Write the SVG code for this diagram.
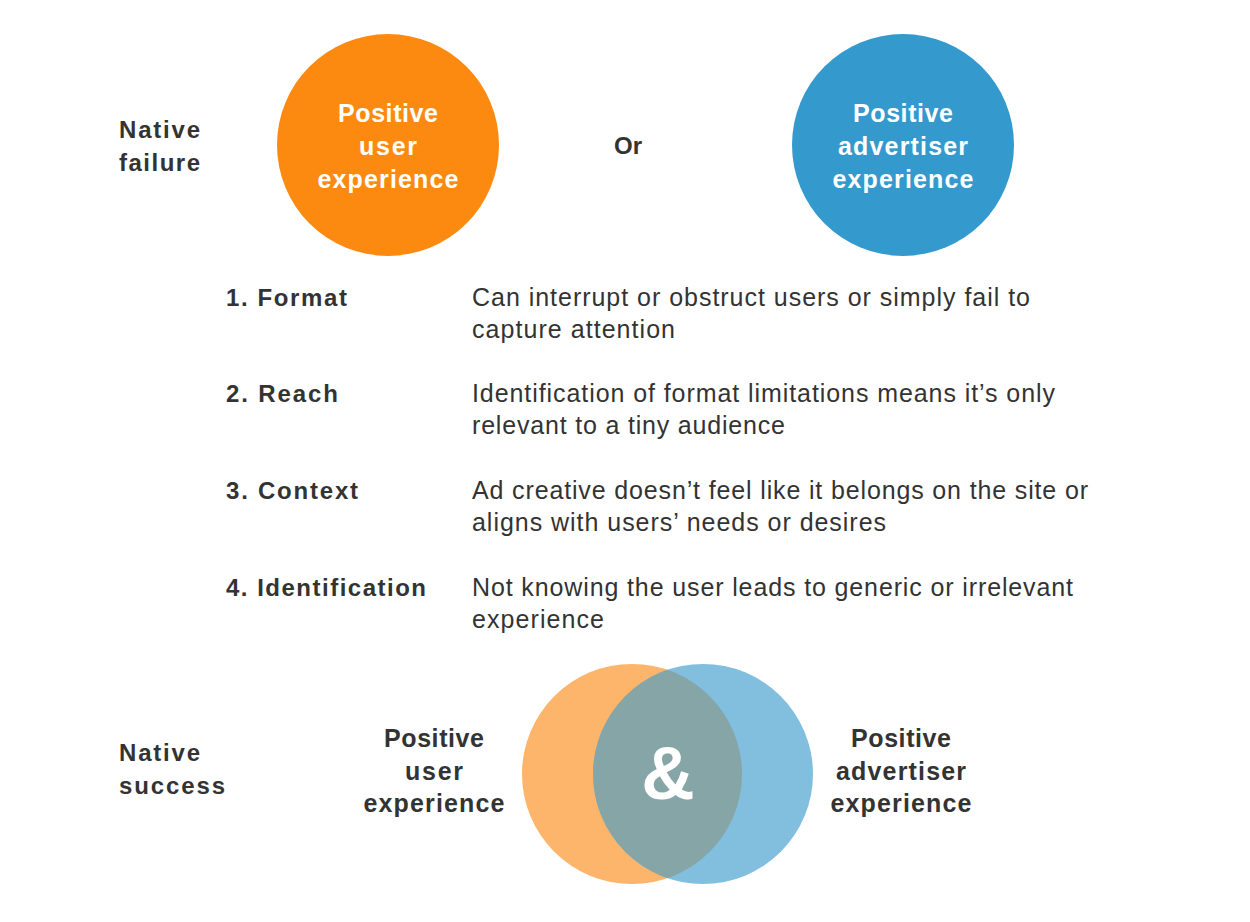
<svg xmlns="http://www.w3.org/2000/svg" width="1250" height="922" viewBox="0 0 1250 922">
<style>
text{font-family:"Liberation Sans",Arial,sans-serif;font-weight:bold;fill:#333}
.w{fill:#fff;font-size:25px}
.l{font-size:24px}
.d{font-weight:normal;font-size:25px}
</style>
<rect width="1250" height="922" fill="#fff"/>
<g id="native-failure"><text class="l" x="119" y="138" textLength="81">Native</text><text class="l" x="119" y="171" textLength="81">failure</text></g>
<g id="circle-user"><circle cx="388" cy="145" r="111" fill="#FD8A10"/>
<text class="w" text-anchor="middle"><tspan x="388" y="122" textLength="100">Positive</tspan><tspan x="388" y="155" textLength="58">user</tspan><tspan x="388" y="188" textLength="141">experience</tspan></text></g>
<g id="or"><text class="l" x="614" y="154">Or</text></g>
<g id="circle-adv"><circle cx="903" cy="145" r="111" fill="#3499CD"/>
<text class="w" text-anchor="middle"><tspan x="903" y="122" textLength="100">Positive</tspan><tspan x="903" y="155" textLength="130">advertiser</tspan><tspan x="903" y="188" textLength="141">experience</tspan></text></g>
<g id="list">
<text class="l" x="226" y="306" textLength="121">1. Format</text>
<text class="d" x="472" y="306" textLength="558">Can interrupt or obstruct users or simply fail to</text>
<text class="d" x="472" y="338" textLength="203">capture attention</text>
<text class="l" x="226" y="402" textLength="112">2. Reach</text>
<text class="d" x="472" y="402" textLength="583">Identification of format limitations means it’s only</text>
<text class="d" x="472" y="434" textLength="313">relevant to a tiny audience</text>
<text class="l" x="226" y="499" textLength="132">3. Context</text>
<text class="d" x="472" y="499" textLength="616">Ad creative doesn’t feel like it belongs on the site or</text>
<text class="d" x="472" y="531" textLength="414">aligns with users’ needs or desires</text>
<text class="l" x="226" y="596" textLength="200">4. Identification</text>
<text class="d" x="472" y="596" textLength="601">Not knowing the user leads to generic or irrelevant</text>
<text class="d" x="472" y="628" textLength="132">experience</text>
</g>
<g id="native-success"><text class="l" x="119" y="761" textLength="81">Native</text><text class="l" x="119" y="794" textLength="106">success</text></g>
<g id="venn">
<defs><clipPath id="c"><circle cx="632" cy="774" r="110"/></clipPath></defs>
<circle cx="632" cy="774" r="110" fill="#FDB46B"/>
<circle cx="703" cy="774" r="110" fill="#82BFDF"/>
<circle cx="703" cy="774" r="110" fill="#86A5A6" clip-path="url(#c)"/>
<text x="668" y="799" text-anchor="middle" style="fill:#fff;font-size:74px">&amp;</text>
</g>
<g id="label-user"><text class="l" text-anchor="middle" style="font-size:25px"><tspan x="434" y="747" textLength="100">Positive</tspan><tspan x="434" y="780" textLength="58">user</tspan><tspan x="434" y="812" textLength="141">experience</tspan></text></g>
<g id="label-adv"><text class="l" text-anchor="middle" style="font-size:25px"><tspan x="901" y="747" textLength="100">Positive</tspan><tspan x="901" y="780" textLength="130">advertiser</tspan><tspan x="901" y="812" textLength="141">experience</tspan></text></g>
</svg>
